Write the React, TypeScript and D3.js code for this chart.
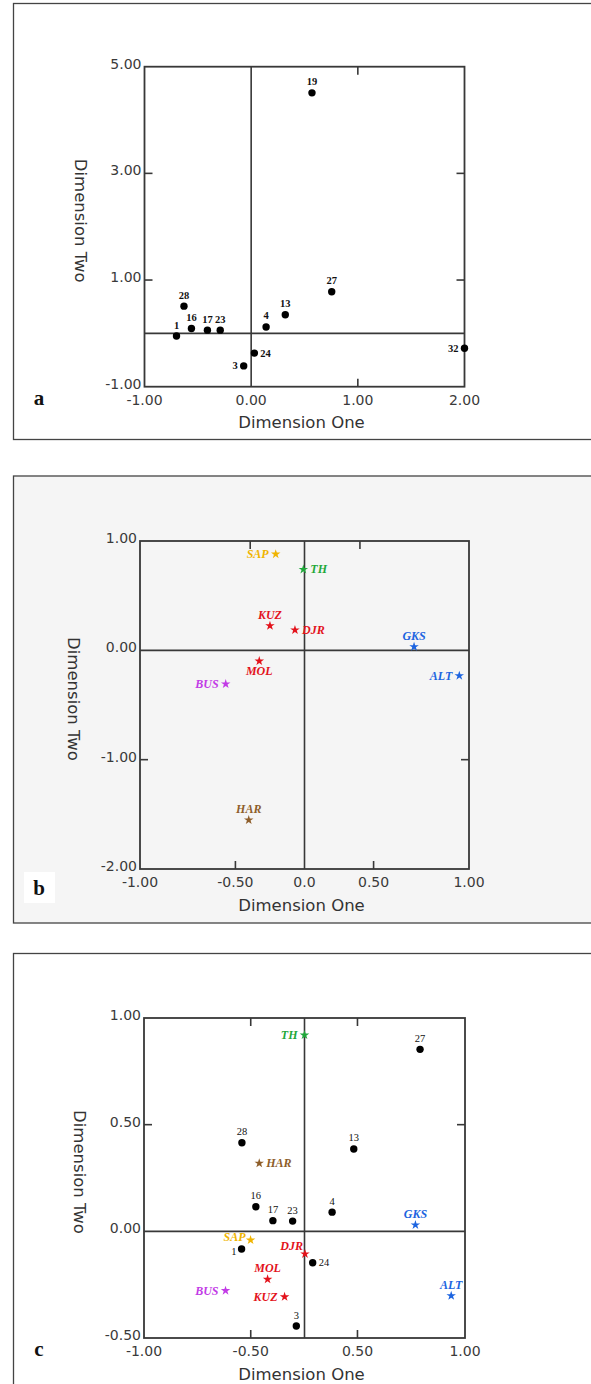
import React from 'react'
import * as d3 from 'd3'

// ---- panel a: sample points ----
const idsA = ['19', '27', '13', '4', '28', '16', '17', '23', '1', '24', '3', '32']
const xA = [0.57, 0.755, 0.32, 0.14, -0.63, -0.56, -0.41, -0.29, -0.70, 0.03, -0.07, 2.0]
const yA = [4.51, 0.78, 0.35, 0.12, 0.51, 0.09, 0.06, 0.06, -0.05, -0.37, -0.61, -0.28]
const sideA = ['top', 'top', 'top', 'top', 'top', 'top', 'top', 'top', 'top', 'right', 'left', 'left']

// ---- panel b: populations ----
const popsB = ['SAP', 'TH', 'KUZ', 'DJR', 'GKS', 'MOL', 'BUS', 'ALT', 'HAR']
const xB = [-0.175, -0.007, -0.21, -0.058, 0.666, -0.275, -0.479, 0.941, -0.339]
const yB = [0.88, 0.74, 0.225, 0.186, 0.033, -0.098, -0.308, -0.232, -1.552]
const sideB = ['left', 'right', 'top', 'right', 'top', 'bottom', 'left', 'left', 'top']

// ---- panel c: populations + samples ----
const popsC = ['TH', 'HAR', 'GKS', 'SAP', 'DJR', 'MOL', 'BUS', 'KUZ', 'ALT']
const xCpop = [0.0, -0.282, 0.691, -0.336, 0.003, -0.23, -0.492, -0.124, 0.914]
const yCpop = [0.92, 0.319, 0.03, -0.041, -0.106, -0.225, -0.278, -0.307, -0.302]
const sideCpop = ['left', 'right', 'top', 'leftup', 'topleft', 'top', 'left', 'left', 'top']

const idsC = ['27', '28', '13', '16', '17', '23', '4', '1', '24', '3']
const xC = [0.72, -0.39, 0.307, -0.303, -0.197, -0.074, 0.172, -0.392, 0.051, -0.051]
const yC = [0.853, 0.415, 0.386, 0.115, 0.05, 0.048, 0.09, -0.083, -0.147, -0.444]
const sideC = ['top', 'top', 'top', 'top', 'top', 'top', 'top', 'leftdown', 'right', 'top']

const popColor: Record<string, string> = {
	SAP: '#f0b400',
	TH: '#1fa83a',
	KUZ: '#e3121b',
	DJR: '#e3121b',
	MOL: '#e3121b',
	GKS: '#1c64e0',
	ALT: '#1c64e0',
	BUS: '#c23be6',
	HAR: '#8e5e2a',
}

const sans = '"DejaVu Sans", Verdana, sans-serif'
const serif = '"Liberation Serif", "Times New Roman", serif'
const lineColor = '#383838'
// plain hyphen instead of d3's unicode minus
const fmt = (v: number) => d3.format('.2f')(v).replace('\u2212', '-')

type Mark = { label: string, x: number, y: number, side: string, color?: string }

type PanelProps = {
	frameTop: number
	frameBottom: number
	bg: string
	left: number
	right: number
	top: number
	bottom: number
	xDomain: [number, number]
	yDomain: [number, number]
	xTicks: number[]
	xTickLabels: string[]
	yTicks: number[]
	innerTop: number[]
	innerBottom: number[]
	innerY: number[]
	yTitleX: number
	letter: string
	letterBox?: boolean
	dots: Mark[]
	stars: Mark[]
	dotLabelWeight: string
}

function zip(labels: string[], xs: number[], ys: number[], sides: string[], withColor = false): Mark[] {
	return labels.map((l, i) => ({
		label: l, x: xs[i], y: ys[i], side: sides[i],
		color: withColor ? popColor[l] : undefined,
	}))
}

// label placement relative to the mark
function labelPos(side: string, gap: number) {
	switch (side) {
		case 'left': return { dx: -gap, dy: 0, anchor: 'end' }
		case 'leftup': return { dx: -gap + 2, dy: -3, anchor: 'end' }
		case 'leftdown': return { dx: -gap + 1, dy: 2, anchor: 'end' }
		case 'right': return { dx: gap, dy: 0, anchor: 'start' }
		case 'bottom': return { dx: 0, dy: 10, anchor: 'middle' }
		case 'topleft': return { dx: -2, dy: -8, anchor: 'end' }
		default: return { dx: 0, dy: -11, anchor: 'middle' }
	}
}

const starPath = d3.symbol(d3.symbolStar, 28)() as string

function Panel(p: PanelProps) {
	const x = d3.scaleLinear().domain(p.xDomain).range([p.left, p.right])
	const y = d3.scaleLinear().domain(p.yDomain).range([p.bottom, p.top])
	const tickLen = 8
	const cx = (p.left + p.right) / 2
	const cy = (p.top + p.bottom) / 2

	return (
		<g>
			<rect x={13.5} y={p.frameTop} width={620} height={p.frameBottom - p.frameTop}
				fill={p.bg} stroke="#444" strokeWidth={1.3} />

			{/* zero lines */}
			<line x1={x(0)} x2={x(0)} y1={p.top} y2={p.bottom} stroke={lineColor} strokeWidth={1.6} />
			<line x1={p.left} x2={p.right} y1={y(0)} y2={y(0)} stroke={lineColor} strokeWidth={1.6} />

			{/* inward tick marks */}
			{p.innerTop.map((v, i) => (
				<line key={'t' + i} x1={x(v)} x2={x(v)} y1={p.top} y2={p.top + tickLen} stroke={lineColor} strokeWidth={1.6} />
			))}
			{p.innerBottom.map((v, i) => (
				<line key={'b' + i} x1={x(v)} x2={x(v)} y1={p.bottom} y2={p.bottom - tickLen} stroke={lineColor} strokeWidth={1.6} />
			))}
			{p.innerY.map((v, i) => (
				<g key={'y' + i}>
					<line x1={p.left} x2={p.left + tickLen} y1={y(v)} y2={y(v)} stroke={lineColor} strokeWidth={1.6} />
					<line x1={p.right} x2={p.right - tickLen} y1={y(v)} y2={y(v)} stroke={lineColor} strokeWidth={1.6} />
				</g>
			))}

			<rect x={p.left} y={p.top} width={p.right - p.left} height={p.bottom - p.top}
				fill="none" stroke={lineColor} strokeWidth={1.8} />

			{/* tick labels */}
			{p.yTicks.map((v, i) => (
				<text key={'yl' + i} x={p.left - 3} y={y(v) - 3} textAnchor="end" dominantBaseline="central"
					fontFamily={sans} fontSize={14} fill="#3a3a3a">{fmt(v)}</text>
			))}
			{p.xTicks.map((v, i) => (
				<text key={'xl' + i} x={x(v)} y={p.bottom + 13} textAnchor="middle" dominantBaseline="central"
					fontFamily={sans} fontSize={14} fill="#3a3a3a">{p.xTickLabels[i]}</text>
			))}

			<text x={cx - 3} y={p.bottom + 36} textAnchor="middle" dominantBaseline="central"
				fontFamily={sans} fontSize={16.5} fill="#333">Dimension One</text>
			<text transform={`translate(${p.yTitleX},${cy - 6}) rotate(90)`} textAnchor="middle" dominantBaseline="central"
				fontFamily={sans} fontSize={16.5} fill="#333">Dimension Two</text>

			{p.letterBox && <rect x={24} y={p.bottom + 3} width={31} height={31} fill="white" />}
			<text x={39} y={p.bottom + (p.letterBox ? 26 : 18)} textAnchor="middle" fontFamily={serif}
				fontWeight="bold" fontSize={21} fill="#111">{p.letter}</text>

			{/* stars */}
			{p.stars.map((d, i) => {
				const lp = labelPos(d.side, 7)
				return (
					<g key={'s' + i} transform={`translate(${x(d.x)},${y(d.y)})`}>
						<path d={starPath} fill={d.color} />
						<text x={lp.dx} y={lp.dy} textAnchor={lp.anchor} dominantBaseline="central"
							fontFamily={serif} fontStyle="italic" fontWeight="bold" fontSize={12} fill={d.color}>{d.label}</text>
					</g>
				)
			})}

			{/* dots */}
			{p.dots.map((d, i) => {
				const lp = labelPos(d.side, 6)
				return (
					<g key={'d' + i} transform={`translate(${x(d.x)},${y(d.y)})`}>
						<circle r={3.7} fill="#000" />
						<text x={lp.dx} y={lp.dy} textAnchor={lp.anchor} dominantBaseline="central"
							fontFamily={serif} fontWeight={p.dotLabelWeight} fontSize={10.5} fill="#111">{d.label}</text>
					</g>
				)
			})}
		</g>
	)
}

export default function App() {
	return (
		<svg width={591} height={1384} style={{ position: 'absolute', left: 0, top: 0, background: 'white' }}>
			<Panel frameTop={3.5} frameBottom={439.5} bg="white"
				left={144.5} right={464.5} top={66.7} bottom={386.7}
				xDomain={[-1, 2]} yDomain={[-1, 5]}
				xTicks={[-1, 0, 1, 2]} xTickLabels={['-1.00', '0.00', '1.00', '2.00']}
				yTicks={[-1, 1, 3, 5]}
				innerTop={[1]} innerBottom={[1]} innerY={[1, 3]}
				yTitleX={80} letter="a"
				dots={zip(idsA, xA, yA, sideA)} stars={[]} dotLabelWeight="bold" />

			<Panel frameTop={476} frameBottom={923} bg="#f5f5f5"
				left={140} right={469} top={541} bottom={869}
				xDomain={[-1, 1]} yDomain={[-2, 1]}
				xTicks={[-1, -0.42, 0, 0.42, 1]} xTickLabels={['-1.00', '-0.50', '0.0', '0.50', '1.00']}
				yTicks={[-2, -1, 0, 1]}
				innerTop={[-0.33, 0.337]} innerBottom={[-0.42, 0.42]} innerY={[-1]}
				yTitleX={73.5} letter="b" letterBox
				dots={[]} stars={zip(popsB, xB, yB, sideB, true)} dotLabelWeight="bold" />

			<Panel frameTop={953.5} frameBottom={1420} bg="white"
				left={144} right={465} top={1018} bottom={1338}
				xDomain={[-1, 1]} yDomain={[-0.5, 1]}
				xTicks={[-1, -0.335, 0.33, 1]} xTickLabels={['-1.00', '-0.50', '0.50', '1.00']}
				yTicks={[-0.5, 0, 0.5, 1]}
				innerTop={[-0.335, 0.33]} innerBottom={[-0.335, 0.33]} innerY={[0.5]}
				yTitleX={79} letter="c"
				dots={zip(idsC, xC, yC, sideC)} stars={zip(popsC, xCpop, yCpop, sideCpop, true)} dotLabelWeight="normal" />
		</svg>
	)
}
